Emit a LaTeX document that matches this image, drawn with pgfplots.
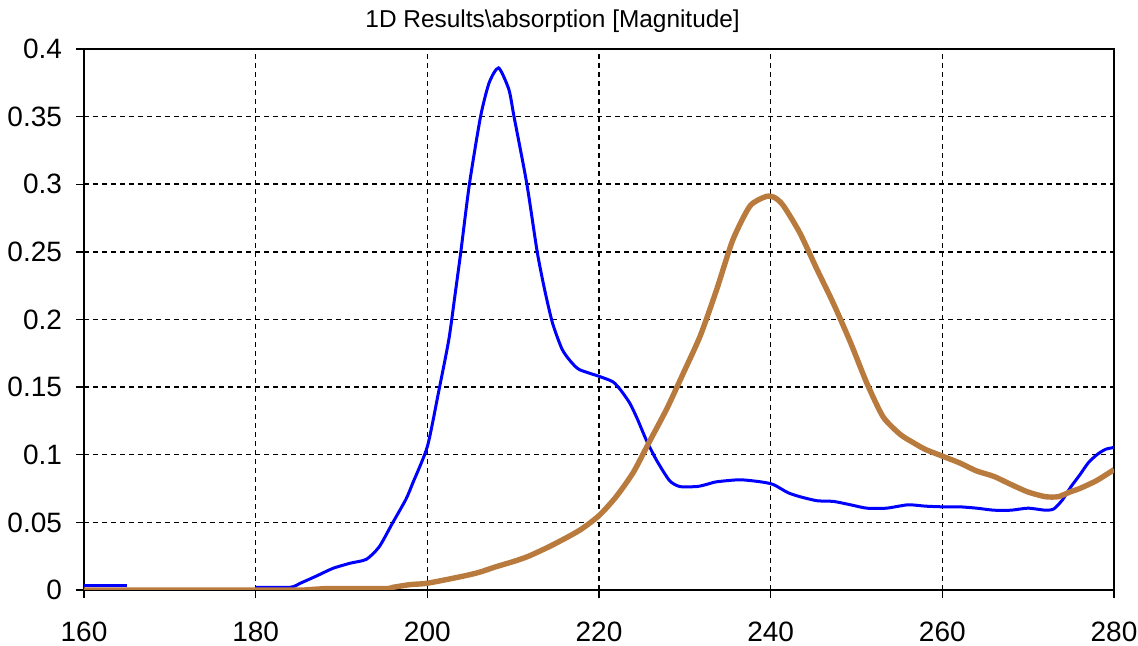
\documentclass[border=0pt]{standalone}
\usepackage{fontspec}
\setmainfont{Liberation Sans}
\usepackage{pgfplots}
\pgfplotsset{compat=1.18}
\definecolor{bluec}{RGB}{0,0,255}
\definecolor{brownc}{RGB}{184,122,61}
\begin{document}
\begin{tikzpicture}
\useasboundingbox (-42pt,-28pt) rectangle (527pt,295pt);
\begin{axis}[
  at={(0,0)}, anchor=south west,
  scale only axis, width=515pt, height=270.5pt,
  xmin=160, xmax=280, ymin=0, ymax=0.4,
  xtick={160,180,...,280},
  ytick={0,0.05,...,0.4},
  scaled y ticks=false, scaled x ticks=false,
  yticklabel style={/pgf/number format/fixed, /pgf/number format/precision=2, font=\fontsize{14}{16}\selectfont, xshift=-3.5pt},
  xticklabel style={font=\fontsize{14}{16}\selectfont, yshift=-8.5pt},
  /pgf/number format/assume math mode=true,
  tick align=outside, xtick pos=left, ytick pos=left,
  major tick length=4pt,
  tick style={black, line width=0.7pt},
  axis line style={black, line width=0.8pt},
  grid=major,
  grid style={black, line width=0.75pt, dash pattern=on 2.5pt off 2pt},
  title={1D Results\textbackslash absorption [Magnitude]},
  title style={at={(axis description cs:0.455,1)}, anchor=base, yshift=4.5pt, font=\fontsize{12.2}{14}\selectfont},
  clip=true,
]
\addplot[bluec, line width=1.5pt] coordinates {(160,0.003)(165,0.003)};
\addplot[bluec, line width=1.5pt, smooth, tension=0.4] coordinates {
(180,0.002)(184,0.002)(185.2,0.005)(187.1,0.0104)(189,0.016)(191,0.0198)(192.9,0.0227)(194.4,0.032)(195.9,0.049)(197.5,0.067)(198.3,0.079)(200,0.106)(201.3,0.146)(202.5,0.185)(203.2,0.217)(203.9,0.25)(204.9,0.3)(206.2,0.35)(207.2,0.375)(208.3,0.386)(209.5,0.37)(210.1,0.35)(211.6,0.3)(212.8,0.25)(213.7,0.221)(214.6,0.197)(215.7,0.178)(216.7,0.169)(217.7,0.163)(220,0.158)(221.6,0.154)(222.5,0.148)(223.6,0.138)(224.5,0.126)(225.5,0.111)(226.7,0.096)(228.2,0.081)(229.4,0.0765)(231.4,0.0765)(232.5,0.078)(233.7,0.080)(236.4,0.0815)(238.8,0.080)(240.3,0.078)(242,0.072)(243.4,0.069)(245.4,0.066)(247.3,0.0655)(249.3,0.063)(251.2,0.0605)(253.5,0.0605)(256,0.063)(258,0.062)(260,0.0615)(262,0.0615)(264,0.0605)(266,0.059)(268,0.059)(270,0.0605)(272,0.059)(273,0.060)(274,0.0667)(275,0.0765)(276,0.085)(277,0.094)(278,0.100)(279,0.104)(280,0.1054)
};
\addplot[brownc, line width=2.7pt, smooth, tension=0.4] coordinates {
(160,0)(187,0)(188,0.001)(195,0.001)(196,0.002)(198,0.004)(200,0.005)(204,0.010)(206,0.013)(207.9,0.017)(210,0.021)(211.8,0.025)(214.5,0.033)(217.7,0.044)(220,0.055)(222,0.069)(224,0.087)(225.9,0.110)(227.9,0.134)(229.8,0.160)(231.8,0.188)(233.7,0.222)(235.6,0.259)(237.6,0.284)(239.5,0.291)(240.5,0.290)(241.5,0.284)(243.4,0.264)(245.4,0.237)(247.3,0.212)(249.3,0.183)(251.2,0.153)(253.1,0.128)(255.1,0.115)(256.6,0.109)(258,0.104)(260,0.099)(262,0.094)(264,0.088)(266,0.084)(268,0.078)(270,0.0724)(272,0.069)(273.5,0.069)(275,0.0728)(276,0.075)(278,0.081)(280,0.089)
};
\end{axis}
\end{tikzpicture}
\end{document}
